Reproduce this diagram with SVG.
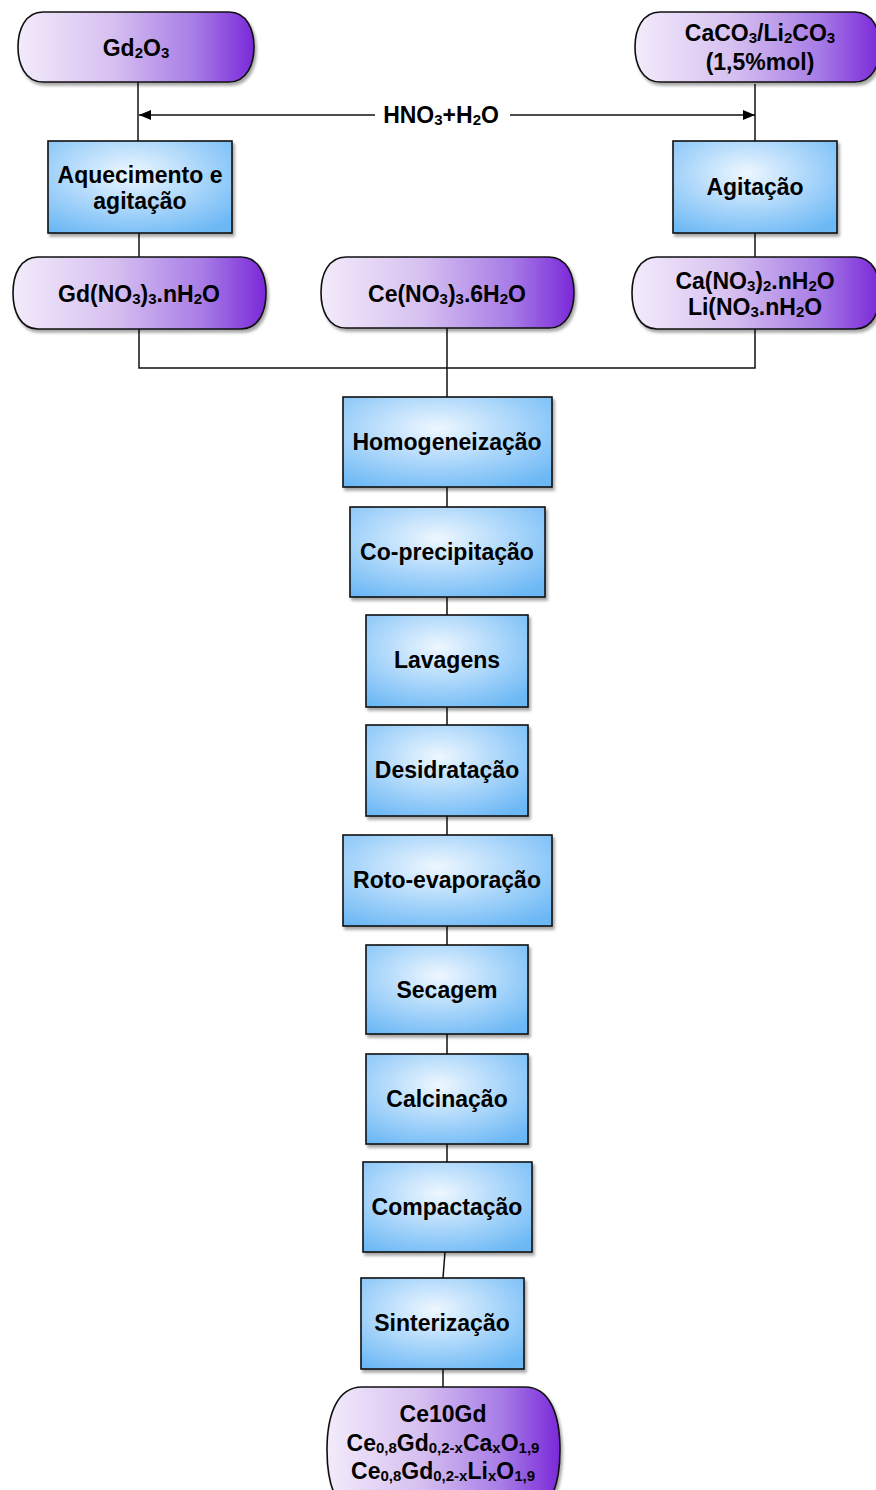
<svg xmlns="http://www.w3.org/2000/svg" width="876" height="1490" viewBox="0 0 876 1490">
<defs>
<linearGradient id="purp" x1="0" y1="0" x2="1" y2="0">
<stop offset="0" stop-color="#f3ebfb"/>
<stop offset="0.4" stop-color="#d6c0f0"/>
<stop offset="0.75" stop-color="#a77ce6"/>
<stop offset="1" stop-color="#7a28d8"/>
</linearGradient>
<radialGradient id="blue" cx="0.45" cy="0.35" r="0.75">
<stop offset="0" stop-color="#eef7ff"/>
<stop offset="0.55" stop-color="#a6d4fa"/>
<stop offset="1" stop-color="#6cb8f5"/>
</radialGradient>
<filter id="sh" x="-10%" y="-10%" width="125%" height="130%">
<feDropShadow dx="2" dy="3" stdDeviation="1.5" flood-color="#000" flood-opacity="0.35"/>
</filter>
<marker id="ah" viewBox="0 0 12 10" refX="12" refY="5" markerWidth="12" markerHeight="10" markerUnits="userSpaceOnUse" orient="auto">
<path d="M0,0 L12,5 L0,10 Z" fill="#000"/>
</marker>
<style>
.t{font-family:"Liberation Sans",Arial,sans-serif;font-weight:bold;font-size:23px;fill:#000;text-anchor:middle}
.s{font-size:15px}
.term{fill:url(#purp);stroke:#111;stroke-width:1.6;filter:url(#sh)}
.box{fill:url(#blue);stroke:#111;stroke-width:1.6;filter:url(#sh)}
.c{fill:none;stroke:#111;stroke-width:1.5}
</style>
</defs>

<g id="connectors">
<line class="c" x1="138" y1="82" x2="138" y2="141"/>
<line class="c" x1="755" y1="84" x2="755" y2="141"/>
<line class="c" x1="375" y1="115" x2="139" y2="115" marker-end="url(#ah)"/>
<line class="c" x1="510" y1="115" x2="755" y2="115" marker-end="url(#ah)"/>
<line class="c" x1="139" y1="233" x2="139" y2="257"/>
<line class="c" x1="755" y1="233" x2="755" y2="257"/>
<polyline class="c" points="139,329 139,368 755,368 755,329"/>
<line class="c" x1="447" y1="328" x2="447" y2="397"/>
<line class="c" x1="447" y1="487" x2="447" y2="507"/>
<line class="c" x1="447" y1="597" x2="447" y2="615"/>
<line class="c" x1="447" y1="707" x2="447" y2="725"/>
<line class="c" x1="447" y1="816" x2="447" y2="835"/>
<line class="c" x1="447" y1="926" x2="447" y2="945"/>
<line class="c" x1="447" y1="1034" x2="447" y2="1054"/>
<line class="c" x1="447" y1="1144" x2="447" y2="1162"/>
<line class="c" x1="445" y1="1252" x2="443" y2="1278"/>
<line class="c" x1="443" y1="1369" x2="443" y2="1387"/>
</g>

<text class="t" x="441" y="123">HNO<tspan class="s" dy="2">3</tspan><tspan dy="-2">+H</tspan><tspan class="s" dy="2">2</tspan><tspan dy="-2">O</tspan></text>

<g id="n-gd2o3">
<path class="term" d="M43,12 L229,12 C247,12 254,30 254,47 C254,64 247,82 229,82 L43,82 C25,82 18,64 18,47 C18,30 25,12 43,12 Z"/>
<text class="t" x="136" y="56">Gd<tspan class="s" dy="2">2</tspan><tspan dy="-2">O</tspan><tspan class="s" dy="2">3</tspan></text>
</g>

<g id="n-caco3">
<path class="term" d="M660,12 L855,12 C873,12 880,30 880,47 C880,64 873,82 855,82 L660,82 C642,82 635,64 635,47 C635,30 642,12 660,12 Z"/>
<text class="t" x="760" y="41">CaCO<tspan class="s" dy="2">3</tspan><tspan dy="-2">/Li</tspan><tspan class="s" dy="2">2</tspan><tspan dy="-2">CO</tspan><tspan class="s" dy="2">3</tspan></text>
<text class="t" x="760" y="70">(1,5%mol)</text>
</g>

<g id="n-aquecimento">
<rect class="box" x="48" y="141" width="184" height="92"/>
<text class="t" x="140" y="183">Aquecimento e</text>
<text class="t" x="140" y="209">agitação</text>
</g>

<g id="n-agitacao">
<rect class="box" x="673" y="141" width="164" height="92"/>
<text class="t" x="755" y="195">Agitação</text>
</g>

<g id="n-gdno3">
<path class="term" d="M38,257 L241,257 C259,257 266,275 266,293 C266,311 259,329 241,329 L38,329 C20,329 13,311 13,293 C13,275 20,257 38,257 Z"/>
<text class="t" x="139" y="302">Gd(NO<tspan class="s" dy="2">3</tspan><tspan dy="-2">)</tspan><tspan class="s" dy="2">3</tspan><tspan dy="-2">.nH</tspan><tspan class="s" dy="2">2</tspan><tspan dy="-2">O</tspan></text>
</g>

<g id="n-ceno3">
<path class="term" d="M346,257 L549,257 C567,257 574,275 574,292.5 C574,310 567,328 549,328 L346,328 C328,328 321,310 321,292.5 C321,275 328,257 346,257 Z"/>
<text class="t" x="447" y="302">Ce(NO<tspan class="s" dy="2">3</tspan><tspan dy="-2">)</tspan><tspan class="s" dy="2">3</tspan><tspan dy="-2">.6H</tspan><tspan class="s" dy="2">2</tspan><tspan dy="-2">O</tspan></text>
</g>

<g id="n-cano3">
<path class="term" d="M657,257 L855,257 C873,257 880,275 880,293 C880,311 873,329 855,329 L657,329 C639,329 632,311 632,293 C632,275 639,257 657,257 Z"/>
<text class="t" x="755" y="289">Ca(NO<tspan class="s" dy="2">3</tspan><tspan dy="-2">)</tspan><tspan class="s" dy="2">2</tspan><tspan dy="-2">.nH</tspan><tspan class="s" dy="2">2</tspan><tspan dy="-2">O</tspan></text>
<text class="t" x="755" y="315">Li(NO<tspan class="s" dy="2">3</tspan><tspan dy="-2">.nH</tspan><tspan class="s" dy="2">2</tspan><tspan dy="-2">O</tspan></text>
</g>

<g id="n-homog">
<rect class="box" x="343" y="397" width="209" height="90"/>
<text class="t" x="447" y="450">Homogeneização</text>
</g>
<g id="n-coprec">
<rect class="box" x="350" y="507" width="195" height="90"/>
<text class="t" x="447" y="560">Co-precipitação</text>
</g>
<g id="n-lavagens">
<rect class="box" x="366" y="615" width="162" height="92"/>
<text class="t" x="447" y="668">Lavagens</text>
</g>
<g id="n-desid">
<rect class="box" x="366" y="725" width="162" height="91"/>
<text class="t" x="447" y="778">Desidratação</text>
</g>
<g id="n-roto">
<rect class="box" x="343" y="835" width="209" height="91"/>
<text class="t" x="447" y="888">Roto-evaporação</text>
</g>
<g id="n-secagem">
<rect class="box" x="366" y="945" width="162" height="89"/>
<text class="t" x="447" y="998">Secagem</text>
</g>
<g id="n-calc">
<rect class="box" x="366" y="1054" width="162" height="90"/>
<text class="t" x="447" y="1107">Calcinação</text>
</g>
<g id="n-compact">
<rect class="box" x="363" y="1162" width="169" height="90"/>
<text class="t" x="447" y="1215">Compactação</text>
</g>
<g id="n-sinter">
<rect class="box" x="361" y="1278" width="163" height="91"/>
<text class="t" x="442" y="1331">Sinterização</text>
</g>

<g id="n-final">
<path class="term" d="M362,1387 L525,1387 C550,1387 560,1415 560,1450 C560,1485 550,1515 525,1515 L362,1515 C337,1515 327,1485 327,1450 C327,1415 337,1387 362,1387 Z"/>
<text class="t" x="443" y="1422">Ce10Gd</text>
<text class="t" x="443" y="1451">Ce<tspan class="s" dy="2">0,8</tspan><tspan dy="-2">Gd</tspan><tspan class="s" dy="2">0,2-x</tspan><tspan dy="-2">Ca</tspan><tspan class="s" dy="2">x</tspan><tspan dy="-2">O</tspan><tspan class="s" dy="2">1,9</tspan></text>
<text class="t" x="443" y="1479">Ce<tspan class="s" dy="2">0,8</tspan><tspan dy="-2">Gd</tspan><tspan class="s" dy="2">0,2-x</tspan><tspan dy="-2">Li</tspan><tspan class="s" dy="2">x</tspan><tspan dy="-2">O</tspan><tspan class="s" dy="2">1,9</tspan></text>
</g>
</svg>
